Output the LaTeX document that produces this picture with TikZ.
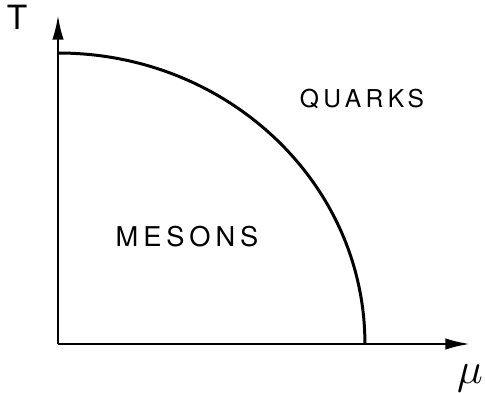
\documentclass[tikz,border=0pt]{standalone}
\usepackage{fontspec}
\setsansfont[LetterSpace=18]{TeX Gyre Heros}
\usetikzlibrary{arrows.meta}
\newcommand{\phase}[1]{\sffamily #1}

\begin{document}
\begin{tikzpicture}[x=0.02cm,y=0.02cm,>={Latex[length=14pt,width=6.5pt]},line width=1.4pt]
\useasboundingbox (-58,-49) rectangle (427,344);
\coordinate (o) at (0,0);
\coordinate (t) at (0,329);
\coordinate (m) at (412,0);
\coordinate (tc) at (0,291);
\draw[->] (o) -- (t);
\draw[->] (o) -- (m);
\draw[line width=1.7pt] (tc) arc[start angle=90,end angle=0,x radius=6.14cm,y radius=5.82cm] coordinate (mc);
\node (tl) at (-41,327) {\fontsize{19}{20}\selectfont\sffamily T};
\node (ml) at (412,-34) {\fontsize{25}{27}\selectfont$\mu$};
\node (q) at (304,245) {\fontsize{14}{16}\selectfont\phase{QUARKS}};
\node (me) at (129,107) {\fontsize{15.5}{17}\selectfont\phase{MESONS}};
\end{tikzpicture}
\end{document}
